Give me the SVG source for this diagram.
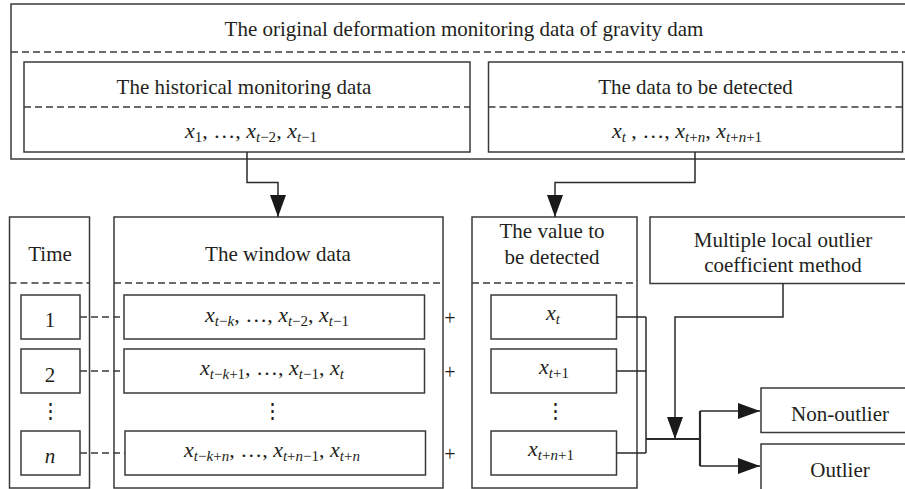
<svg xmlns="http://www.w3.org/2000/svg" width="905" height="489" viewBox="0 0 905 489">
<defs>
<style>
.box{fill:#fff;stroke:#3a3a3a;stroke-width:1.5}
.dash{fill:none;stroke:#3a3a3a;stroke-width:1.3;stroke-dasharray:7 4}
.ln{fill:none;stroke:#2a2a2a;stroke-width:1.5}
.thk{fill:none;stroke:#2a2a2a;stroke-width:2.2}
text{font-family:"Liberation Serif","DejaVu Serif",serif;fill:#231f20;font-size:21px;text-anchor:middle}
.m{font-size:22px}
.it{font-style:italic}
.sb{font-size:15px}
</style>
<marker id="ah" viewBox="0 0 22 16" refX="22" refY="8" markerWidth="22" markerHeight="16" markerUnits="userSpaceOnUse" orient="auto">
<path d="M0,0 L22,8 L0,16 Z" fill="#1a1a1a"/>
</marker>
</defs>

<g id="original">
<rect class="box" x="11" y="4" width="900" height="155"/>
<line class="dash" x1="11" y1="52" x2="905" y2="52"/>
<text x="464" y="36">The original deformation monitoring data of gravity dam</text>
</g>

<g id="historical">
<rect class="box" x="24" y="62" width="446" height="90"/>
<line class="dash" x1="24" y1="107" x2="470" y2="107"/>
<text x="244" y="94">The historical monitoring data</text>
<text class="m" x="251" y="138"><tspan class="it">x</tspan><tspan class="sb" dy="4">1</tspan><tspan dy="-4">, …, </tspan><tspan class="it">x</tspan><tspan class="sb it" dy="4">t</tspan><tspan class="sb" >−2</tspan><tspan dy="-4">, </tspan><tspan class="it">x</tspan><tspan class="sb it" dy="4">t</tspan><tspan class="sb">−1</tspan></text>
</g>

<g id="detect">
<rect class="box" x="488.5" y="62" width="414" height="90"/>
<line class="dash" x1="488.5" y1="107" x2="902.5" y2="107"/>
<text x="695.5" y="94">The data to be detected</text>
<text class="m" x="687" y="138"><tspan class="it">x</tspan><tspan class="sb it" dy="4">t</tspan><tspan dy="-4"> , …, </tspan><tspan class="it">x</tspan><tspan class="sb it" dy="4">t</tspan><tspan class="sb">+</tspan><tspan class="sb it">n</tspan><tspan dy="-4">, </tspan><tspan class="it">x</tspan><tspan class="sb it" dy="4">t</tspan><tspan class="sb">+</tspan><tspan class="sb it">n</tspan><tspan class="sb">+1</tspan></text>
</g>

<g id="time">
<rect class="box" x="9.5" y="217" width="80" height="271"/>
<line class="dash" x1="9.5" y1="283" x2="89.5" y2="283"/>
<text x="50" y="261">Time</text>
<rect class="box" x="21" y="295" width="59" height="44"/>
<text x="50" y="327">1</text>
<rect class="box" x="21" y="349" width="59" height="44"/>
<text x="50" y="382">2</text>
<text x="50" y="418">⋮</text>
<rect class="box" x="21" y="431" width="59" height="44"/>
<text x="50" y="463" class="it">n</text>
</g>

<g id="window">
<rect class="box" x="114" y="217" width="329" height="271"/>
<line class="dash" x1="114" y1="283" x2="443" y2="283"/>
<text x="278" y="261">The window data</text>
<rect class="box" x="124" y="295" width="300.5" height="44"/>
<text class="m" x="277" y="322"><tspan class="it">x</tspan><tspan class="sb it" dy="4">t</tspan><tspan class="sb">−</tspan><tspan class="sb it">k</tspan><tspan dy="-4">, …, </tspan><tspan class="it">x</tspan><tspan class="sb it" dy="4">t</tspan><tspan class="sb">−2</tspan><tspan dy="-4">, </tspan><tspan class="it">x</tspan><tspan class="sb it" dy="4">t</tspan><tspan class="sb">−1</tspan></text>
<rect class="box" x="124" y="349" width="300.5" height="44"/>
<text class="m" x="272" y="375"><tspan class="it">x</tspan><tspan class="sb it" dy="4">t</tspan><tspan class="sb">−</tspan><tspan class="sb it">k</tspan><tspan class="sb">+1</tspan><tspan dy="-4">, …, </tspan><tspan class="it">x</tspan><tspan class="sb it" dy="4">t</tspan><tspan class="sb">−1</tspan><tspan dy="-4">, </tspan><tspan class="it">x</tspan><tspan class="sb it" dy="4">t</tspan></text>
<text x="272" y="418">⋮</text>
<rect class="box" x="125" y="431" width="300.5" height="44"/>
<text class="m" x="272" y="457"><tspan class="it">x</tspan><tspan class="sb it" dy="4">t</tspan><tspan class="sb">−</tspan><tspan class="sb it">k</tspan><tspan class="sb">+</tspan><tspan class="sb it">n</tspan><tspan dy="-4">, …, </tspan><tspan class="it">x</tspan><tspan class="sb it" dy="4">t</tspan><tspan class="sb">+</tspan><tspan class="sb it">n</tspan><tspan class="sb">−1</tspan><tspan dy="-4">, </tspan><tspan class="it">x</tspan><tspan class="sb it" dy="4">t</tspan><tspan class="sb">+</tspan><tspan class="sb it">n</tspan></text>
</g>

<g id="plus">
<text x="450" y="325" style="font-size:20px">+</text>
<text x="450" y="379" style="font-size:20px">+</text>
<text x="450" y="461" style="font-size:20px">+</text>
</g>

<g id="value">
<rect class="box" x="472" y="217" width="165" height="271"/>
<line class="dash" x1="472" y1="283" x2="637" y2="283"/>
<text x="552" y="238">The value to</text>
<text x="552" y="264">be detected</text>
<rect class="box" x="491" y="295" width="125.5" height="44"/>
<text class="m" x="553" y="320"><tspan class="it">x</tspan><tspan class="sb it" dy="4">t</tspan></text>
<rect class="box" x="491" y="349" width="125.5" height="44"/>
<text class="m" x="554" y="374"><tspan class="it">x</tspan><tspan class="sb it" dy="4">t</tspan><tspan class="sb">+1</tspan></text>
<text x="555" y="418">⋮</text>
<rect class="box" x="491" y="431" width="125.5" height="44"/>
<text class="m" x="551" y="456"><tspan class="it">x</tspan><tspan class="sb it" dy="4">t</tspan><tspan class="sb">+</tspan><tspan class="sb it">n</tspan><tspan class="sb">+1</tspan></text>
</g>

<g id="method">
<rect class="box" x="650" y="217" width="262" height="66.5"/>
<text x="783" y="247">Multiple local outlier</text>
<text x="783" y="272">coefficient method</text>
</g>

<g id="nonoutlier">
<rect class="box" x="761" y="388" width="151" height="44.5"/>
<text x="840" y="421">Non-outlier</text>
</g>

<g id="outlier">
<rect class="box" x="761" y="444" width="151" height="50"/>
<text x="840" y="477">Outlier</text>
</g>

<g id="connectors">
<path class="ln" d="M247,152 V182.5 H278 V217" marker-end="url(#ah)"/>
<path class="ln" d="M695,152 V182.5 H555 V217" marker-end="url(#ah)"/>
<line class="dash" x1="80" y1="317" x2="124" y2="317"/>
<line class="dash" x1="80" y1="371" x2="124" y2="371"/>
<line class="dash" x1="80" y1="453" x2="125" y2="453"/>
<path class="ln" d="M616.5,317 H646 M616.5,371 H646 M616.5,453 H646 M646,317 V453"/>
<path class="ln" d="M783,283.5 V317 H675 V439" marker-end="url(#ah)"/>
<path class="thk" d="M646,439 H700 M700,411 V466"/>
<path class="ln" d="M700,411 H760" marker-end="url(#ah)"/>
<path class="ln" d="M700,466 H760" marker-end="url(#ah)"/>
</g>
</svg>
